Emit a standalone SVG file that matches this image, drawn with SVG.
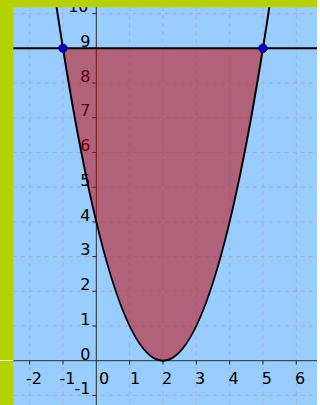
<svg xmlns="http://www.w3.org/2000/svg" width="320" height="405" viewBox="0 0 320 405">
  <defs>
    <style>
      .grid { stroke: #aab0c6; stroke-width: 1; stroke-dasharray: 4 4; fill: none; }
      .axis { stroke: #2a2a2a; stroke-width: 1; fill: none; }
      .lbl { font-family: "DejaVu Sans", "Liberation Sans", sans-serif; font-size: 16px; fill: #000; }
      .ylbl { text-anchor: end; }
      .curve { stroke: #000; stroke-width: 2; fill: none; }
      .pt { fill: #0000c8; stroke: #00004a; stroke-width: 0.8; }
      .frame { fill: #b5d200; }
    </style>
  </defs>
  <rect x="0" y="0" width="320" height="405" fill="#ffffff"/>
  <rect id="background" x="13" y="0" width="304" height="405" fill="#99ccff"/>

  <g id="grid">
    <line class="grid" x1="29.64" y1="7" x2="29.64" y2="405"/>
    <line class="grid" x1="62.97" y1="7" x2="62.97" y2="405"/>
    <line class="grid" x1="129.63" y1="7" x2="129.63" y2="405"/>
    <line class="grid" x1="162.96" y1="7" x2="162.96" y2="405"/>
    <line class="grid" x1="196.29" y1="7" x2="196.29" y2="405"/>
    <line class="grid" x1="229.62" y1="7" x2="229.62" y2="405"/>
    <line class="grid" x1="262.95" y1="7" x2="262.95" y2="405"/>
    <line class="grid" x1="296.28" y1="7" x2="296.28" y2="405"/>
    <line class="grid" x1="13" y1="395.41" x2="317" y2="395.41"/>
    <line class="grid" x1="13" y1="325.99" x2="317" y2="325.99"/>
    <line class="grid" x1="13" y1="291.28" x2="317" y2="291.28"/>
    <line class="grid" x1="13" y1="256.57" x2="317" y2="256.57"/>
    <line class="grid" x1="13" y1="221.86" x2="317" y2="221.86"/>
    <line class="grid" x1="13" y1="187.15" x2="317" y2="187.15"/>
    <line class="grid" x1="13" y1="152.44" x2="317" y2="152.44"/>
    <line class="grid" x1="13" y1="117.73" x2="317" y2="117.73"/>
    <line class="grid" x1="13" y1="83.02" x2="317" y2="83.02"/>
    <line class="grid" x1="13" y1="48.31" x2="317" y2="48.31"/>
    <line class="grid" x1="13" y1="13.6" x2="317" y2="13.6"/>
  </g>

  <g id="axes">
    <line class="axis" x1="13" y1="360.7" x2="317" y2="360.7"/>
    <line class="axis" x1="96.3" y1="7" x2="96.3" y2="405"/>
    <path class="axis" d="M29.64 360.7v4M62.97 360.7v4M129.63 360.7v4M162.96 360.7v4M196.29 360.7v4M229.62 360.7v4M262.95 360.7v4M296.28 360.7v4"/>
    <path class="axis" d="M96.3 395.41h-4M96.3 325.99h-4M96.3 291.28h-4M96.3 256.57h-4M96.3 221.86h-4M96.3 187.15h-4M96.3 152.44h-4M96.3 117.73h-4M96.3 83.02h-4M96.3 48.31h-4M96.3 13.6h-4"/>
  </g>

  <g id="x-labels">
    <text class="lbl" x="26" y="383.5">-2</text>
    <text class="lbl" x="59.4" y="383.5">-1</text>
    <text class="lbl" x="99" y="383.5">0</text>
    <text class="lbl" x="129.9" y="383.5">1</text>
    <text class="lbl" x="162" y="383.5">2</text>
    <text class="lbl" x="195" y="383.5">3</text>
    <text class="lbl" x="228.5" y="383.5">4</text>
    <text class="lbl" x="261.8" y="383.5">5</text>
    <text class="lbl" x="295" y="383.5">6</text>
  </g>

  <g id="y-labels">
    <text class="lbl ylbl" x="90.5" y="394">-1</text>
    <text class="lbl ylbl" x="90.5" y="360">0</text>
    <text class="lbl ylbl" x="90.5" y="324.7">1</text>
    <text class="lbl ylbl" x="90.5" y="290">2</text>
    <text class="lbl ylbl" x="90.5" y="255.2">3</text>
    <text class="lbl ylbl" x="90.5" y="220.5">4</text>
    <text class="lbl ylbl" x="90.5" y="185.8">5</text>
    <text class="lbl ylbl" x="90.5" y="151">6</text>
    <text class="lbl ylbl" x="90.5" y="116.3">7</text>
    <text class="lbl ylbl" x="90.5" y="81.6">8</text>
    <text class="lbl ylbl" x="90.5" y="46.6">9</text>
    <text class="lbl ylbl" x="88.5" y="12">10</text>
  </g>

  <g id="region">
    <path d="M62.97 48.31 Q162.96 673.09 262.95 48.31 Z" fill="#c40000" fill-opacity="0.52"/>
  </g>

  <g id="parabola">
    <path class="curve" d="M52.97 -17.29 Q162.96 738.7 272.95 -17.29"/>
  </g>

  <g id="line-y9">
    <line class="curve" x1="13" y1="48.31" x2="317" y2="48.31"/>
  </g>

  <g id="point-A">
    <circle class="pt" cx="62.97" cy="48.31" r="4.2"/>
  </g>
  <g id="point-B">
    <circle class="pt" cx="262.95" cy="48.31" r="4.2"/>
  </g>

  <g id="frame">
    <rect class="frame" x="0" y="0" width="317" height="7.3"/>
    <rect class="frame" x="0" y="0" width="13.3" height="405"/>
    <line x1="0" y1="360.5" x2="13.3" y2="360.5" stroke="#ffffff" stroke-opacity="0.8" stroke-width="1"/>
  </g>
</svg>
